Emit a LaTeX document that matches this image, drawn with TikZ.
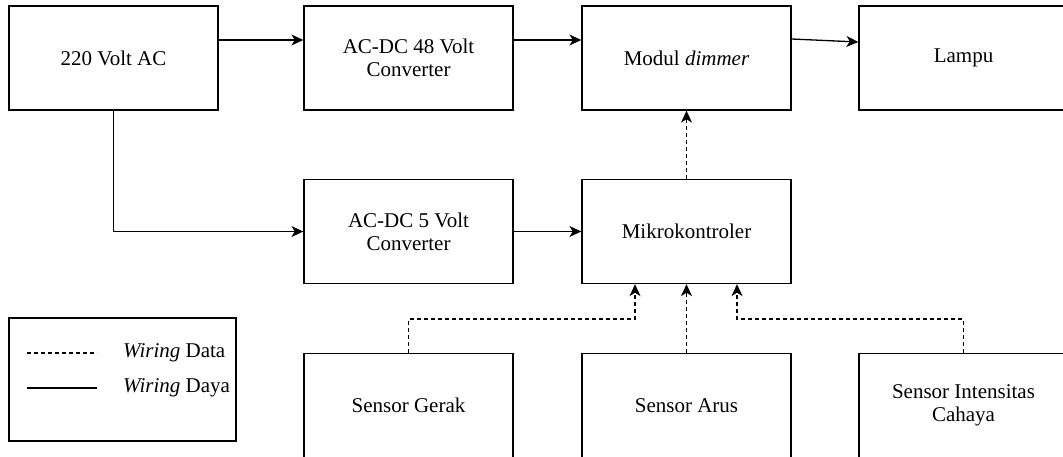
\documentclass[tikz,border=0pt]{standalone}
\usepackage{fontspec}
\setmainfont{Liberation Serif}
\usetikzlibrary{arrows.meta}

\begin{document}
\begin{tikzpicture}[x=1pt, y=-1pt,
  blok/.style={draw, line width=1.3pt, minimum width=209pt, minimum height=104pt,
    align=center, font=\fontsize{21}{23}\selectfont},
  daya/.style={line width=1.3pt, -{Stealth[length=12pt, width=11pt, inset=3.5pt]}},
  data/.style={line width=1.3pt, dash pattern=on 4pt off 3pt, -{Stealth[length=12pt, width=11pt, inset=3.5pt]}},
  ket/.style={anchor=west, inner sep=0pt, font=\fontsize{21}{23}\selectfont}]

\useasboundingbox (0,0) rectangle (1063,456);
\clip (0,0) rectangle (1063,456);

\node[blok] (ac220) at (113.5,58) {220 Volt AC};
\node[blok] (dc48) at (408.5,58) {AC-DC 48 Volt\\Converter};
\node[blok] (dimmer) at (686.5,58) {Modul \textit{dimmer}};
\node[blok] (lampu) at (963.5,58) {Lampu};

\node[blok] (dc5) at (408.5,231.5) {AC-DC 5 Volt\\Converter};
\node[blok] (mikro) at (686.5,231.5) {Mikrokontroler};

\node[blok] (gerak) at (408.5,405.5) {Sensor Gerak};
\node[blok] (arus) at (686.5,405.5) {Sensor Arus};
\node[blok] (intens) at (963.5,405.5) {Sensor Intensitas\\Cahaya};

\draw[daya] ([yshift=18pt]ac220.east) -- ([yshift=18pt]dc48.west);
\draw[daya] ([yshift=18pt]dc48.east) -- ([yshift=18pt]dimmer.west);
\draw[daya] ([yshift=19pt]dimmer.east) -- ([yshift=16pt]lampu.west);
\draw[daya] (ac220.south) |- (dc5.west);
\draw[daya] (dc5.east) -- (mikro.west);

\draw[data] (mikro.north) -- (dimmer.south);
\coordinate (gk) at (635,319);
\coordinate (ic) at (737,319);
\draw[data] (gerak.north) |- (gk) -- (gk |- mikro.south);
\draw[data] (arus.north) -- (mikro.south);
\draw[data] (intens.north) |- (ic) -- (ic |- mikro.south);

\node[draw, line width=1.3pt, minimum width=227pt, minimum height=123pt] (legenda) at (122.5,379.5) {};
\draw[line width=1.3pt, dash pattern=on 4pt off 3pt] (27,353) -- (97,353);
\draw[line width=1.3pt] (27,388) -- (97,388);
\node[ket] (kdata) at (123,353) {\textit{Wiring} Data};
\node[ket] (kdaya) at (123,388) {\textit{Wiring} Daya};

\end{tikzpicture}
\end{document}
